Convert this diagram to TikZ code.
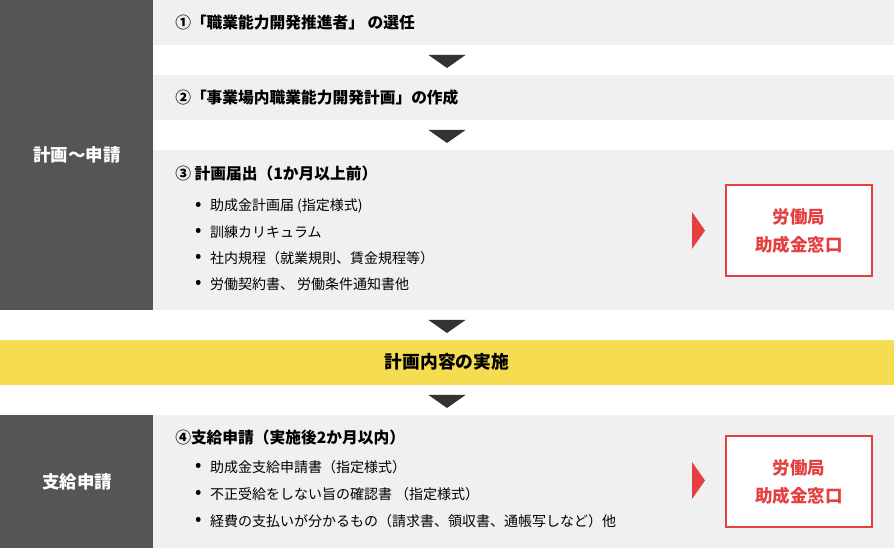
\documentclass[tikz,border=0pt]{standalone}
\usepackage{fontspec}
\setmainfont{Noto Sans CJK JP}
\definecolor{sidegray}{HTML}{555555}
\definecolor{rowgray}{HTML}{F0F0F0}
\definecolor{bandyellow}{HTML}{F6DC50}
\definecolor{madored}{HTML}{E5403F}
\definecolor{arrowgray}{HTML}{333333}
\tikzset{
	sidelabel/.style={text=white, font=\bfseries\fontsize{13.1}{16}\selectfont},
	stephead/.style={anchor=west, inner sep=0, font=\bfseries\fontsize{11.8}{14}\selectfont},
	bulletitem/.style={anchor=west, inner sep=0, font=\fontsize{10.5}{13}\selectfont},
	madolabel/.style={text=madored, align=center, font=\bfseries\fontsize{13.1}{21}\selectfont},
	downarrow/.style={fill=arrowgray},
	rightarrow/.style={fill=madored}
}
\newcommand{\itemdot}{\raisebox{0.05ex}{\scalebox{1.35}{\textbullet}}\hspace{0.6em}}
\begin{document}
\begin{tikzpicture}[x=0.75pt,y=0.75pt,yscale=-1,xscale=1]
\useasboundingbox (0,0) rectangle (894,548);

% side columns
\fill[sidegray] (0,0) rectangle (153,310);
\fill[sidegray] (0,415) rectangle (153,548);
% step rows
\fill[rowgray] (153,0) rectangle (894,45);
\fill[rowgray] (153,75) rectangle (894,120);
\fill[rowgray] (153,150) rectangle (894,310);
\fill[rowgray] (153,415) rectangle (894,548);
% yellow band
\fill[bandyellow] (0,340) rectangle (894,385);

% down arrows
\foreach \ty in {55,130,320,395}{
	\fill[downarrow] (428.5,\ty) -- (465.5,\ty) -- (447,\ty+13) -- cycle;
}

\node[sidelabel] (planlabel) at (77,155) {計画〜申請};
\node[sidelabel] (paylabel) at (77,482) {支給申請};

\node[stephead] (step1) at (175,23) {①「職業能力開発推進者」 の選任};
\node[stephead] (step2) at (175,98) {②「事業場内職業能力開発計画」の作成};
\node[stephead] (step3) at (175,174) {③ 計画届出（1か月以上前）};
\node[bulletitem] (doc1) at (195,206) {\itemdot 助成金計画届 (指定様式)};
\node[bulletitem] (doc2) at (195,232) {\itemdot 訓練カリキュラム};
\node[bulletitem] (doc3) at (195,258) {\itemdot 社内規程（就業規則、賃金規程等）};
\node[bulletitem] (doc4) at (195,284) {\itemdot 労働契約書、 労働条件通知書他};

\node[font=\bfseries\fontsize{13.3}{15}\selectfont] (carryout) at (447,362) {計画内容の実施};

\node[stephead] (step4) at (175,438) {④支給申請（実施後2か月以内）};
\node[bulletitem] (pay1) at (195,467) {\itemdot 助成金支給申請書（指定様式）};
\node[bulletitem] (pay2) at (195,494) {\itemdot 不正受給をしない旨の確認書 （指定様式）};
\node[bulletitem] (pay3) at (195,521) {\itemdot 経費の支払いが分かるもの（請求書、領収書、通帳写しなど）他};

% labour office boxes
\draw[madored, line width=1.5pt, fill=white] (726,185) rectangle (872,276);
\node[madolabel] (office1) at (799,231) {労働局\\助成金窓口};
\draw[madored, line width=1.5pt, fill=white] (726,436) rectangle (872,527);
\node[madolabel] (office2) at (799,482) {労働局\\助成金窓口};
\fill[rightarrow] (692,212) -- (705,230.5) -- (692,249) -- cycle;
\fill[rightarrow] (692,462) -- (705,480.5) -- (692,499) -- cycle;

\end{tikzpicture}
\end{document}
